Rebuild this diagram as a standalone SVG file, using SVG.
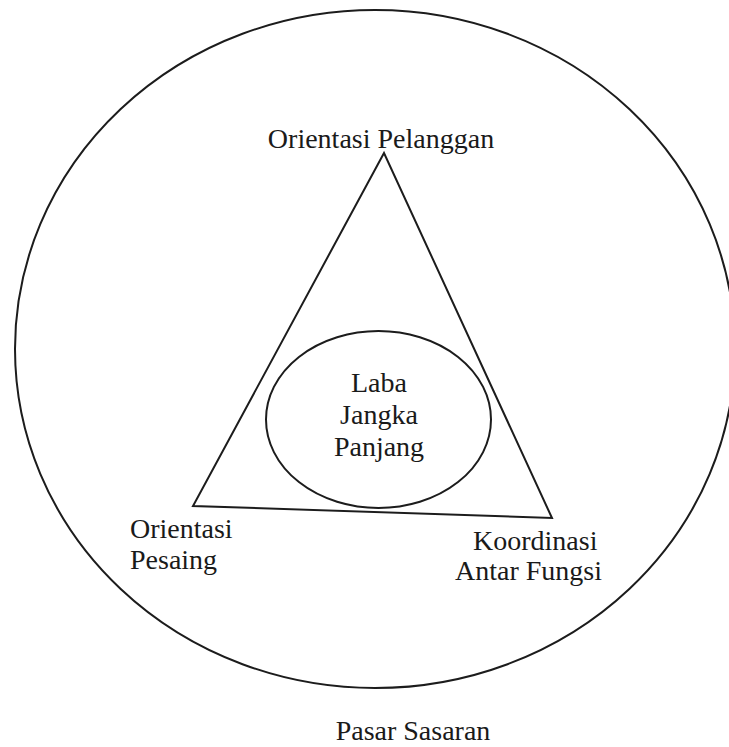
<svg xmlns="http://www.w3.org/2000/svg" width="729" height="747" viewBox="0 0 729 747">
  <style>
    .shape { fill: none; stroke: #1c1c1c; stroke-width: 2; }
    .lbl { font-family: "Liberation Serif", "Times New Roman", serif; font-size: 28px; fill: #1a1a1a; }
    .mid { text-anchor: middle; }
  </style>
  <rect x="0" y="0" width="729" height="747" fill="#ffffff"/>
  <g id="pasar-sasaran">
    <ellipse class="shape" cx="375" cy="349" rx="360" ry="339"/>
    <text class="lbl mid" x="413" y="740">Pasar Sasaran</text>
  </g>
  <g id="segitiga">
    <polygon class="shape" points="384,153 193,506 552,518" stroke-linejoin="miter"/>
  </g>
  <g id="orientasi-pelanggan">
    <text class="lbl mid" x="381" y="148">Orientasi Pelanggan</text>
  </g>
  <g id="orientasi-pesaing">
    <text class="lbl" x="130" y="538">Orientasi</text>
    <text class="lbl" x="130" y="569">Pesaing</text>
  </g>
  <g id="koordinasi-antar-fungsi">
    <text class="lbl" x="473" y="550">Koordinasi</text>
    <text class="lbl" x="455" y="580">Antar Fungsi</text>
  </g>
  <g id="laba-jangka-panjang">
    <ellipse class="shape" cx="378.5" cy="419.5" rx="112.5" ry="88.5"/>
    <text class="lbl mid" x="379" y="392">Laba</text>
    <text class="lbl mid" x="379" y="424">Jangka</text>
    <text class="lbl mid" x="379" y="456">Panjang</text>
  </g>
  <g id="connectors"></g>
</svg>
